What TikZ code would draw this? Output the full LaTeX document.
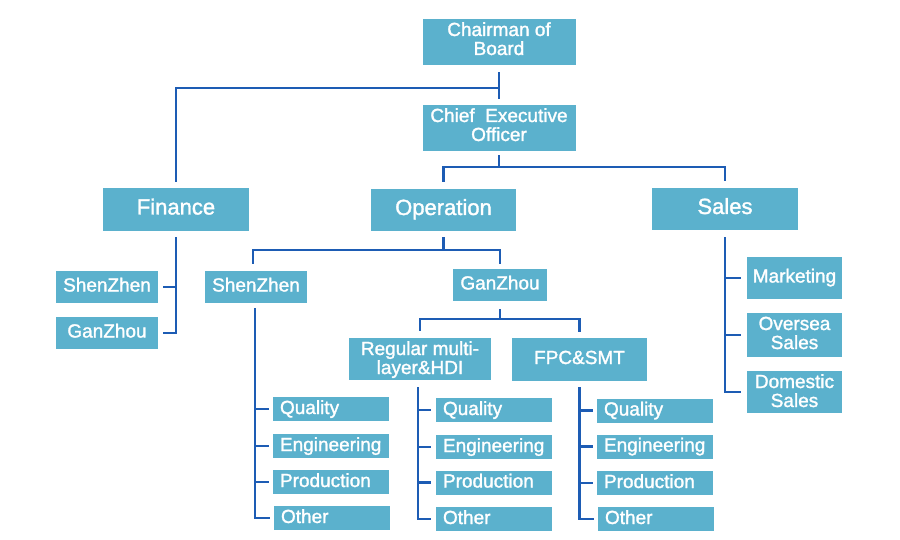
\documentclass[tikz,border=0pt]{standalone}
\usepackage{fontspec}
\setmainfont{Liberation Sans}[FakeBold=1.5]
\usetikzlibrary{calc}
\definecolor{boxblue}{HTML}{5BB1CD}
\definecolor{lineblue}{HTML}{1D5CB4}
\tikzset{
  box/.style={fill=boxblue, text=white, inner sep=0pt, align=center,
    font=\fontsize{19}{19}\selectfont, text height=14pt, text depth=5pt},
  bigbox/.style={box, font=\fontsize{22}{22}\selectfont, text height=16pt, text depth=6pt},
  twoline/.style={text height=33pt, text depth=#1},
  item/.style={fill=boxblue, text=white, inner xsep=7pt, inner ysep=0pt,
    minimum width=116pt, minimum height=24pt, text width=102pt, align=left,
    font=\fontsize{19}{19}\selectfont, text height=13pt, text depth=3pt},
  conn/.style={draw=lineblue, line width=2.4pt, line join=miter}
}
\begin{document}
\begin{tikzpicture}[x=1pt,y=-1pt]
\useasboundingbox (0,0) rectangle (900,540);
\fill[white] (0,0) rectangle (900,540);
% top
\node[box, twoline=7pt, minimum width=153pt, minimum height=46pt] (chair) at (499,42) {Chairman of\\Board};
\node[box, twoline=7pt, minimum width=153pt, minimum height=46pt] (ceo) at (499,128) {Chief~ Executive\\Officer};
% level 2
\node[bigbox, minimum width=146pt, minimum height=43pt] (fin) at (176,209.5) {Finance};
\node[bigbox, minimum width=145pt, minimum height=42pt] (op) at (443.5,210) {Operation};
\node[bigbox, minimum width=146pt, minimum height=42pt] (sales) at (725,209) {Sales};
% finance children
\node[box, minimum width=102pt, minimum height=32pt] (fsz) at (107,287) {ShenZhen};
\node[box, minimum width=102pt, minimum height=32pt] (fgz) at (107,333) {GanZhou};
% operation children
\node[box, minimum width=102pt, minimum height=32pt] (osz) at (256,287) {ShenZhen};
\node[box, minimum width=94pt, minimum height=32pt] (ogz) at (500,285) {GanZhou};
\node[box, twoline=3pt, minimum width=142pt, minimum height=42pt] (reg) at (420,359) {Regular multi-\\layer\&HDI};
\node[box, minimum width=135pt, minimum height=43pt] (fpc) at (579.5,359.5) {FPC\&SMT};
% sales children
\node[box, minimum width=95pt, minimum height=42pt] (mkt) at (794.5,278) {Marketing};
\node[box, twoline=5pt, minimum width=95pt, minimum height=44pt] (ovs) at (794.5,335) {Oversea\\Sales};
\node[box, twoline=3pt, minimum width=95pt, minimum height=42pt] (dom) at (794.5,392) {Domestic\\Sales};
% items
\node[item] (szq) at (331,409) {Quality};
\node[item] (sze) at (331,446) {Engineering};
\node[item] (szp) at (331,482) {Production};
\node[item] (szo) at (332,518) {Other};
\node[item] (rgq) at (494,410) {Quality};
\node[item] (rge) at (494,447) {Engineering};
\node[item] (rgp) at (494,482.5) {Production};
\node[item] (rgo) at (494,519) {Other};
\node[item] (fpq) at (655,410.5) {Quality};
\node[item] (fpe) at (655,446.5) {Engineering};
\node[item] (fpp) at (655,483) {Production};
\node[item] (fpo) at (656,519) {Other};
% connectors
\coordinate (chj) at ($(chair.south)+(0,23)$);
\draw[conn] ($(chair.south)+(0,7)$) -- ($(ceo.north)+(0,-6)$);
\draw[conn] (chj) -| ($(fin.north)+(0,-6)$);
\coordinate (ceoj) at ($(ceo.south)+(0,16)$);
\draw[conn] ($(ceo.south)+(0,4)$) -- (ceoj);
\draw[conn] ($(op.north)+(0,-7)$) |- (ceoj) -| ($(sales.north)+(0,-7)$);
% finance
\draw[conn] ($(fin.south)+(0,6)$) |- ($(fgz.east)+(5,0)$);
\draw[conn] ($(fsz.east)+(5,0)$) -- (fsz.east -| fin.south);
% operation
\coordinate (opj) at ($(op.south)+(0,19)$);
\draw[conn] ($(op.south)+(0,6)$) -- (opj);
\draw[conn] ($(osz.north)+(-3,-7)$) |- (opj) -| ($(ogz.north)+(0,-5)$);
% shenzhen items
\draw[conn] ($(osz.south)+(-1,5)$) |- ($(szo.west)+(-4,0)$);
\foreach \n in {szq,sze,szp}{\draw[conn] ($(\n.west)+(-4,0)$) -- ($(\n.west -| osz.south)+(-1,0)$);}
% ganzhou
\coordinate (gzj) at ($(ogz.south)+(0,18)$);
\draw[conn] ($(ogz.south)+(0,8)$) -- (gzj);
\draw[conn] ($(reg.north)+(0,-7)$) |- (gzj) -| ($(fpc.north)+(0,-6)$);
% regular items
\draw[conn] ($(reg.south)+(-2,7)$) |- ($(rgo.west)+(-5,0)$);
\foreach \n in {rgq,rge,rgp}{\draw[conn] ($(\n.west)+(-5,0)$) -- ($(\n.west -| reg.south)+(-2,0)$);}
% fpc items
\draw[conn] ($(fpc.south)+(0,6)$) |- ($(fpo.west)+(-4,0)$);
\foreach \n in {fpq,fpe,fpp}{\draw[conn] ($(\n.west)+(-4,0)$) -- (\n.west -| fpc.south);}
% sales items
\draw[conn] ($(sales.south)+(0,7)$) |- ($(dom.west)+(-6,0)$);
\foreach \n in {mkt,ovs}{\draw[conn] ($(\n.west)+(-6,0)$) -- (\n.west -| sales.south);}
\end{tikzpicture}
\end{document}
